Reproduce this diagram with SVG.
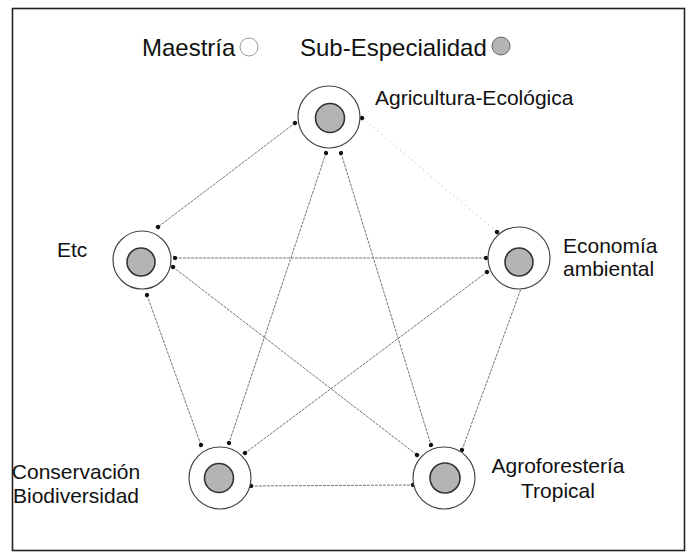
<svg xmlns="http://www.w3.org/2000/svg" width="695" height="558" viewBox="0 0 695 558">
<style>
text{font-family:"Liberation Sans",Arial,sans-serif;fill:#111;}
.lbl{font-size:21px;}
.leg{font-size:24px;}
.outer{fill:#fff;stroke:#444;stroke-width:1.2;}
.inner{fill:#b4b4b4;stroke:#333;stroke-width:1.6;}
.edge{fill:none;stroke:#777;stroke-width:1;stroke-dasharray:3 1;marker-start:url(#dot);marker-end:url(#dot);}
.faint{stroke:#aaa;stroke-dasharray:1 4;}
</style>
<defs>
<marker id="dot" viewBox="0 0 6 6" refX="3" refY="3" markerWidth="5" markerHeight="5" markerUnits="userSpaceOnUse" orient="auto">
<circle cx="3" cy="3" r="2.6" fill="#111"/>
</marker>
</defs>
<rect x="12.5" y="8.5" width="672" height="542" fill="#fff" stroke="#222" stroke-width="1.6"/>
<g id="legend">
<text class="leg" x="142" y="56">Maestría</text>
<circle cx="249" cy="47" r="9" fill="#fff" stroke="#999" stroke-width="1"/>
<text class="leg" x="300" y="56">Sub-Especialidad</text>
<circle cx="501" cy="46" r="9" fill="#b4b4b4" stroke="#666" stroke-width="1"/>
</g>
<g id="connectors">
<line class="edge" x1="295" y1="123" x2="158" y2="227"/>
<line class="edge faint" x1="362" y1="118" x2="497" y2="232"/>
<line class="edge" x1="326" y1="153" x2="229" y2="443"/>
<line class="edge" x1="341" y1="153" x2="431" y2="445"/>
<line class="edge" x1="175" y1="258" x2="486" y2="258"/>
<line class="edge" x1="173" y1="267" x2="417" y2="455"/>
<line class="edge" x1="147" y1="295" x2="201" y2="445"/>
<line class="edge" x1="487" y1="272" x2="245" y2="453"/>
<line class="edge" x1="522" y1="286" x2="462" y2="450"/>
<line class="edge" x1="251" y1="486" x2="413" y2="485"/>
</g>
<g id="agricultura">
<circle class="outer" cx="329" cy="117" r="31"/>
<circle class="inner" cx="330" cy="118" r="14.5"/>
<text class="lbl" x="375" y="105">Agricultura-Ecológica</text>
</g>
<g id="etc">
<circle class="outer" cx="142" cy="260" r="29"/>
<circle class="inner" cx="141" cy="262" r="14"/>
<text class="lbl" x="57" y="257">Etc</text>
</g>
<g id="economia">
<circle class="outer" cx="519" cy="258" r="31"/>
<circle class="inner" cx="519" cy="262" r="14"/>
<text class="lbl" x="563" y="253">Economía</text>
<text class="lbl" x="563" y="276">ambiental</text>
</g>
<g id="conservacion">
<circle class="outer" cx="220" cy="478" r="31"/>
<circle class="inner" cx="219" cy="478" r="14.5"/>
<text class="lbl" x="76" y="479" text-anchor="middle" font-size="20">Conservación</text>
<text class="lbl" x="76" y="503" text-anchor="middle" font-size="20">Biodiversidad</text>
</g>
<g id="agroforesteria">
<circle class="outer" cx="444" cy="478" r="31"/>
<circle class="inner" cx="445" cy="478" r="15"/>
<text class="lbl" x="558" y="473" text-anchor="middle">Agroforestería</text>
<text class="lbl" x="558" y="498" text-anchor="middle">Tropical</text>
</g>
</svg>
